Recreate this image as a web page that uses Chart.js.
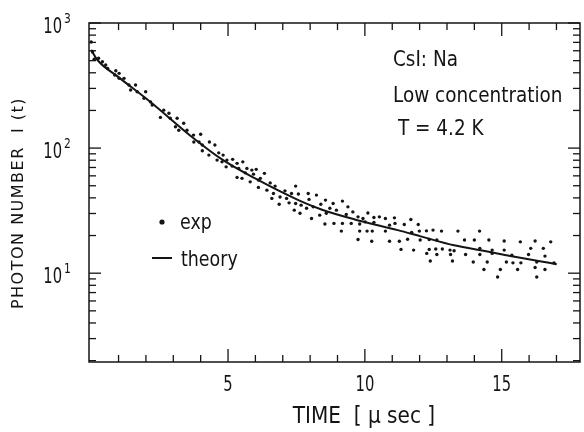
<!DOCTYPE html>
<html>
<head>
<meta charset="utf-8">
<script src="https://cdn.jsdelivr.net/npm/chart.js@4.4.0/dist/chart.umd.min.js"></script>
<style>
  html, body { margin: 0; padding: 0; background: #fff; }
  #wrap { width: 584px; height: 432px; position: relative; }
</style>
</head>
<body>
<div id="wrap"><canvas id="decayChart"></canvas></div>
<script>
// measured decay (time in µs, photon number)
const expTime = [
  0.00, 0.05, 0.11, 0.27, 0.41, 0.53, 0.60, 0.90, 1.02, 0.86, 1.02, 1.20, 1.38, 1.62, 1.44, 1.68,
  1.99, 1.93, 2.17, 2.23, 2.65, 2.53, 2.84, 2.89, 3.14, 3.08, 3.20, 3.38, 3.50, 3.74, 4.00, 3.75,
  3.94, 4.06, 4.32, 4.52, 4.06, 4.30, 4.66, 4.82, 4.60, 4.78, 4.96, 5.17, 5.33, 4.93, 5.15, 5.54,
  5.39, 5.69, 5.87, 6.03, 5.63, 5.93, 6.33, 5.33, 5.51, 5.81, 6.11, 6.18, 6.54, 6.72, 6.11, 6.42,
  6.66, 7.08, 6.60, 6.90, 7.14, 6.87, 7.47, 7.32, 7.57, 7.93, 8.23, 7.23, 7.47, 7.67, 7.96, 7.42,
  7.63, 7.87, 8.11, 8.39, 8.56, 8.84, 9.18, 8.72, 8.96, 9.38, 8.59, 8.35, 8.05, 9.56, 9.32, 9.75,
  9.93, 10.11, 10.33, 10.53, 10.75, 11.08, 8.54, 8.87, 9.18, 9.50, 9.81, 10.01, 10.33, 10.90, 11.10, 9.14,
  9.81, 10.08, 10.27, 10.75, 9.75, 10.25, 10.90, 11.44, 11.68, 11.95, 11.71, 11.99, 12.25, 12.49, 12.80, 13.40,
  14.19, 11.26, 11.56, 12.02, 12.35, 12.63, 13.64, 14.00, 11.32, 11.78, 12.35, 12.59, 12.83, 12.26, 12.63, 13.11,
  13.26, 13.13, 13.68, 14.20, 12.39, 13.20, 13.96, 14.20, 14.35, 14.53, 15.09, 15.68, 16.22, 16.79, 14.65, 15.09,
  16.06, 16.52, 14.65, 15.37, 15.98, 16.58, 14.47, 15.17, 15.41, 15.70, 16.28, 16.91, 14.95, 15.58, 16.22, 16.58,
  14.85, 16.28
];
const expCount = [
  705, 586, 513, 522, 490, 461, 434, 415, 396, 384, 361, 361, 319, 319, 291, 282,
  282, 250, 234, 221, 201, 176, 190, 173, 173, 148, 139, 158, 139, 127, 129, 112,
  112, 106, 112, 106, 95.1, 87.9, 91.6, 87.9, 80.2, 77.6, 80.2, 81.3, 75.5, 70.8, 71.8, 77.6,
  68.8, 68.8, 66.7, 67.6, 63.4, 61.9, 62.8, 58.3, 57.3, 53.7, 55.5, 57.3, 52.7, 49.7, 48.5, 46.1,
  43.4, 45.5, 39.6, 40.7, 39.6, 35.6, 49.7, 43.4, 42.9, 43.4, 42.1, 36.5, 36.1, 35.0, 38.9, 31.9,
  30.1, 33.0, 33.9, 35.6, 38.4, 36.1, 37.7, 33.0, 31.9, 33.9, 30.1, 29.1, 27.4, 30.9, 29.5, 28.2,
  27.4, 30.3, 27.9, 28.2, 27.4, 27.7, 24.7, 25.0, 25.0, 25.0, 24.7, 25.7, 25.5, 24.2, 25.0, 21.7,
  21.7, 21.7, 21.7, 21.7, 18.6, 18.0, 18.0, 24.5, 26.9, 24.5, 21.2, 21.7, 21.8, 22.1, 21.7, 21.7,
  21.7, 18.0, 18.7, 18.4, 18.6, 18.4, 18.4, 18.4, 15.5, 15.3, 15.5, 15.6, 15.6, 14.4, 14.1, 15.3,
  15.1, 14.1, 14.1, 15.8, 12.5, 12.5, 12.3, 14.1, 10.7, 18.4, 18.1, 17.8, 18.1, 17.8, 15.3, 15.3,
  15.8, 15.8, 14.4, 13.9, 14.1, 13.7, 12.3, 12.3, 12.1, 12.1, 12.3, 12.1, 10.7, 10.7, 11.1, 10.7,
  9.33, 9.33
];

// theory curve
const theoryTime = [0, 0.23, 1.02, 2.12, 3.74, 4.78, 5.99, 7.57, 8.41, 9.63, 11.2, 12.04, 13.26, 14.47, 15.31, 17.01];
const theoryCount = [610, 506, 366, 238, 120, 81.2, 57.2, 38.4, 32.3, 26.9, 22.1, 19.7, 16.7, 14.9, 13.7, 11.8];

// axes
const xMinorTicks = [1, 2, 3, 4, 5, 6, 7, 8, 9, 10, 11, 12, 13, 14, 15, 16, 17];
const xLabelTicks = [5, 10, 15];
const xTickLabels = ['5', '10', '15'];
const yMinorTicks = [2, 3, 4, 5, 6, 7, 8, 9, 20, 30, 40, 50, 60, 70, 80, 90, 200, 300, 400, 500, 600, 700, 800, 900];
const yLabelTicks = [10, 100, 1000];
const yTickExponents = ['1', '2', '3'];

const xTitle = 'TIME  [ \u03bc sec ]';
const yTitle = 'PHOTON NUMBER  I (t)';
const noteLines = ['CsI: Na', 'Low concentration', 'T = 4.2 K'];
const legendLabels = ['exp', 'theory'];

const INK = '#141414';
const FONT = '"DejaVu Sans Condensed", "DejaVu Sans", sans-serif';

function strokeLine(ctx, x1, y1, x2, y2) {
    ctx.beginPath();
    ctx.moveTo(x1, y1);
    ctx.lineTo(x2, y2);
    ctx.stroke();
}

// squeeze text horizontally, the original lettering is narrow
function narrowText(ctx, text, x, y, sx, align) {
    ctx.save();
    ctx.translate(x, y);
    ctx.scale(sx, 1);
    ctx.textAlign = align;
    ctx.fillText(text, 0, 0);
    ctx.restore();
}

// frame, inward ticks, labels and annotations
const paperAxes = {
    id: 'paperAxes',
    afterDraw(chart) {
        const { ctx, chartArea: a, scales: { x, y } } = chart;
        ctx.save();
        ctx.strokeStyle = INK;
        ctx.fillStyle = INK;
        ctx.lineWidth = 1.5;
        ctx.strokeRect(a.left, a.top, a.right - a.left, a.bottom - a.top);

        ctx.lineWidth = 1.3;
        xMinorTicks.forEach(v => {
            const px = x.getPixelForValue(v);
            const len = xLabelTicks.includes(v) ? 13 : 7;
            strokeLine(ctx, px, a.bottom, px, a.bottom - len);
            strokeLine(ctx, px, a.top, px, a.top + len);
        });
        yMinorTicks.concat(yLabelTicks).forEach(v => {
            const py = y.getPixelForValue(v);
            const len = yLabelTicks.includes(v) ? 12 : 7;
            strokeLine(ctx, a.left, py, a.left + len, py);
            strokeLine(ctx, a.right, py, a.right - len, py);
        });

        ctx.textBaseline = 'alphabetic';

        // x tick labels
        ctx.font = '21px ' + FONT;
        xLabelTicks.forEach((v, i) => {
            narrowText(ctx, xTickLabels[i], x.getPixelForValue(v), 391, 0.78, 'center');
        });

        // y tick labels as 10^n
        yLabelTicks.forEach((v, i) => {
            const py = y.getPixelForValue(v);
            ctx.font = '21px ' + FONT;
            narrowText(ctx, '10', 62, py + 9.5, 0.78, 'right');
            ctx.font = '14px ' + FONT;
            narrowText(ctx, yTickExponents[i], 64, py, 0.85, 'left');
        });

        // axis titles
        ctx.font = '23px ' + FONT;
        narrowText(ctx, xTitle, 364, 423, 0.97, 'center');

        ctx.save();
        ctx.translate(23, 203);
        ctx.rotate(-Math.PI / 2);
        ctx.font = '16px "DejaVu Sans", sans-serif';
        ctx.letterSpacing = '1.5px';
        ctx.textAlign = 'center';
        ctx.fillText(yTitle, 0, 0);
        ctx.restore();

        // sample note
        ctx.font = '22px ' + FONT;
        narrowText(ctx, noteLines[0], 393, 66, 0.93, 'left');
        narrowText(ctx, noteLines[1], 393, 101.5, 0.93, 'left');
        narrowText(ctx, noteLines[2], 398, 135, 0.93, 'left');

        // legend
        ctx.beginPath();
        ctx.arc(162, 222, 2.6, 0, Math.PI * 2);
        ctx.fill();
        ctx.lineWidth = 2;
        strokeLine(ctx, 152, 258, 172, 258);
        narrowText(ctx, legendLabels[0], 180, 229, 0.88, 'left');
        narrowText(ctx, legendLabels[1], 181, 266, 0.88, 'left');
        ctx.restore();
    }
};

new Chart(document.getElementById('decayChart'), {
    type: 'scatter',
    data: {
        datasets: [{
            label: legendLabels[0],
            data: expTime.map((t, i) => ({ x: t, y: expCount[i] })),
            pointRadius: 1.7,
            pointBorderWidth: 0,
            backgroundColor: INK
        }, {
            label: legendLabels[1],
            data: theoryTime.map((t, i) => ({ x: t, y: theoryCount[i] })),
            showLine: true,
            pointRadius: 0,
            borderColor: INK,
            borderWidth: 2,
            cubicInterpolationMode: 'monotone'
        }]
    },
    options: {
        responsive: true,
        maintainAspectRatio: false,
        animation: false,
        layout: {
            padding: { left: 89, top: 23, right: 1, bottom: 70 }
        },
        plugins: {
            legend: { display: false },
            tooltip: { enabled: false }
        },
        scales: {
            x: {
                type: 'linear',
                display: false,
                min: -0.08,
                max: 17.86
            },
            y: {
                type: 'logarithmic',
                display: false,
                min: 1.95,
                max: 1000
            }
        }
    },
    plugins: [paperAxes]
});
</script>
</body>
</html>
